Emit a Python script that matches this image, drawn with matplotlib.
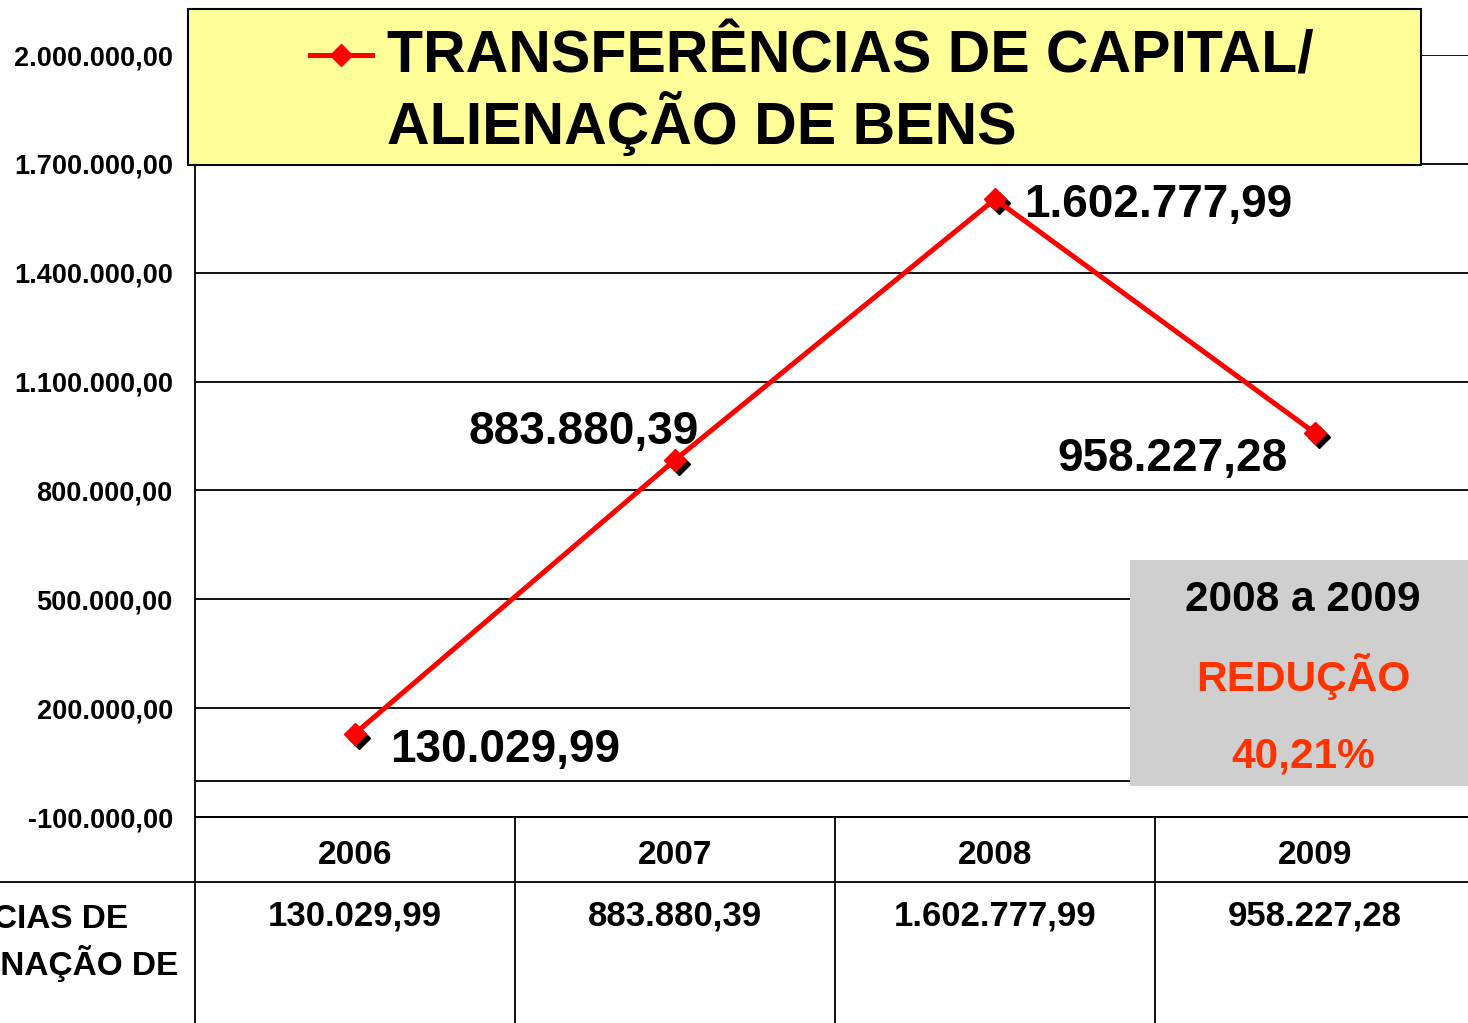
import numpy as np
import matplotlib.pyplot as plt
import matplotlib.transforms as mtransforms
from matplotlib.patches import Rectangle
from matplotlib.lines import Line2D

plt.rcParams['font.family'] = ['Liberation Sans', 'DejaVu Sans']
plt.rcParams['font.weight'] = 'bold'

# data
years = ['2006', '2007', '2008', '2009']
values = [130029.99, 883880.39, 1602777.99, 958227.28]
yticks = [-100000, 200000, 500000, 800000, 1100000, 1400000, 1700000, 2000000]
title_lines = ['TRANSFERÊNCIAS DE CAPITAL/', 'ALIENAÇÃO DE BENS']
row_label_lines = ['TRANSFERÊNCIAS DE', 'CAPITAL/ ALIENAÇÃO DE']
note_lines = ['2008 a 2009', 'REDUÇÃO', '40,21%']

RED = '#FF0000'
NOTE_RED = '#FF3300'


def br(v):
    # brazilian number format 1.234,56
    s = '{:,.2f}'.format(v)
    return s.replace(',', 'X').replace('.', ',').replace('X', '.')


W, H = 1468, 1023
fig = plt.figure(figsize=(W / 100, H / 100), dpi=100)

def fx(px):
    return px / W

def fy(py):
    return (H - py) / H

ax = fig.add_axes([fx(195), fy(817), 1280 / W, (817 - 55) / H])
x = np.arange(len(years))
ax.set_xlim(-0.5, 3.5)
ax.set_ylim(-100000, 2000000)
ax.set_yticks(yticks)
ax.set_yticklabels([br(t) for t in yticks], fontsize=19.5, fontweight='bold')
ax.tick_params(axis='y', length=0, pad=16)
ax.set_xticks([])
ax.grid(axis='y', color='black', lw=1.3)
ax.axhline(0, color='black', lw=1.3)
for s in ['top', 'right']:
    ax.spines[s].set_visible(False)
ax.spines['left'].set_linewidth(1.3)
ax.spines['bottom'].set_linewidth(1.3)

# shadow markers, then line with markers
shadow = ax.transData + mtransforms.ScaledTranslation(0.04, -0.04, fig.dpi_scale_trans)
ax.plot(x, values, 'D', color='black', ms=11, transform=shadow, zorder=3)
ax.plot(x, values, '-', color=RED, lw=3.6, marker='D', ms=11, zorder=4)

# data labels
offsets = [(25, -12), (17, 20), (21, -4), (-20, -19)]
has = ['left', 'right', 'left', 'right']
for i, v in enumerate(values):
    ax.annotate(br(v), (x[i], v), xytext=offsets[i], textcoords='offset points',
                ha=has[i], va='center', fontsize=33, fontweight='bold', zorder=5)

# legend box
fig.add_artist(Rectangle((fx(188), fy(165)), (1421 - 188) / W, (165 - 9) / H,
                         transform=fig.transFigure, fc='#FFFF99', ec='black', lw=1.5, zorder=5))
fig.add_artist(Line2D([fx(310), fx(372)], [fy(55), fy(55)], color=RED, lw=3.6,
                      transform=fig.transFigure, zorder=6))
fig.add_artist(Line2D([fx(341)], [fy(55)], color=RED, marker='D', ms=11,
                      transform=fig.transFigure, zorder=6))
fig.text(fx(387), fy(57), title_lines[0], fontsize=42.5, fontweight='bold', va='center', ha='left', zorder=7)
fig.text(fx(387), fy(123), title_lines[1], fontsize=42.5, fontweight='bold', va='center', ha='left', zorder=7)

# grey note box
fig.add_artist(Rectangle((fx(1130), fy(786)), (1475 - 1130) / W, (786 - 560) / H,
                         transform=fig.transFigure, fc='#CFCFCF', ec='none', zorder=5))
fig.text(fx(1303), fy(600), note_lines[0], fontsize=30.5, fontweight='bold', ha='center', va='center', zorder=7)
fig.text(fx(1303), fy(677), note_lines[1], fontsize=30.5, fontweight='bold', color=NOTE_RED,
         ha='center', va='center', zorder=7)
fig.text(fx(1303), fy(756), note_lines[2], fontsize=30.5, fontweight='bold', color=NOTE_RED,
         ha='center', va='center', zorder=7)

# data table under the chart
tb = mtransforms.blended_transform_factory(ax.transData, fig.transFigure)
fig.add_artist(Line2D([0, 1], [fy(882), fy(882)], color='black', lw=1.3, transform=fig.transFigure))
fig.add_artist(Line2D([fx(195), 1], [fy(817), fy(817)], color='black', lw=1.3, transform=fig.transFigure))
for xb in [-0.5, 0.5, 1.5, 2.5, 3.5]:
    fig.add_artist(Line2D([xb, xb], [fy(817), 0], color='black', lw=1.3, transform=tb))
for i, yr in enumerate(years):
    fig.text(x[i], fy(855), yr, transform=tb, fontsize=24, fontweight='bold', ha='center', va='center')
    fig.text(x[i], fy(916), br(values[i]), transform=tb, fontsize=25, fontweight='bold',
             ha='center', va='center')

# row label (cut off by the left edge as in the original)
fig.text(fx(128), fy(919), row_label_lines[0], fontsize=24, fontweight='bold', ha='right', va='center')
fig.text(fx(178), fy(963), row_label_lines[1], fontsize=24, fontweight='bold', ha='right', va='center')

fig.savefig('out.png', dpi=100)
